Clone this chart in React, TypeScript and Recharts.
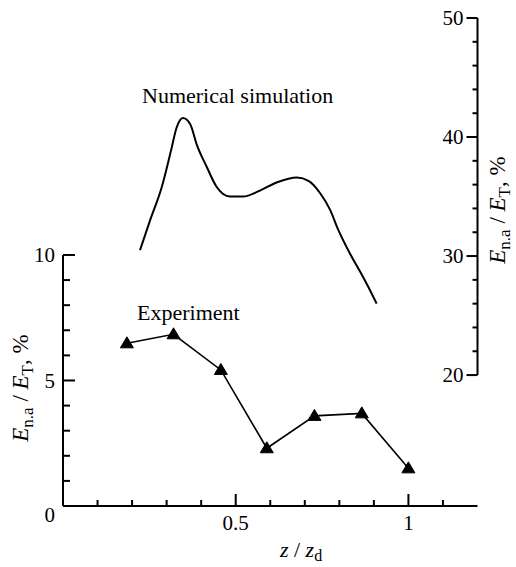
import React from 'react';
import { LineChart, Line, XAxis, YAxis, ReferenceLine } from 'recharts';

// Experiment (left axis, %)
const expZ = [0.185, 0.32, 0.457, 0.59, 0.728, 0.865, 1.0];
const expE = [6.48, 6.84, 5.42, 2.3, 3.59, 3.69, 1.5];

// Numerical simulation (right axis, %)
const simZ = [0.223, 0.252, 0.286, 0.313, 0.329, 0.347, 0.368, 0.388, 0.416, 0.445, 0.483, 0.521, 0.57, 0.62, 0.677, 0.712, 0.744, 0.773, 0.797, 0.831, 0.86, 0.884, 0.908];
const simE = [30.5, 33.0, 35.8, 38.9, 40.8, 41.6, 41.1, 39.3, 37.5, 35.8, 35.0, 35.0, 35.5, 36.2, 36.6, 36.3, 35.3, 33.9, 32.2, 30.2, 28.7, 27.4, 26.0];

// Tick values
const xTicks = [0.1, 0.2, 0.3, 0.4, 0.5, 0.6, 0.7, 0.8, 0.9, 1.0, 1.1];
const xLabelTicks = [0.5, 1];
const leftTicks = [0, 1, 2, 3, 4, 5, 6, 7, 8, 9, 10];
const leftLabelTicks = [0, 5, 10];
const rightTicks = [20, 22, 24, 26, 28, 30, 32, 34, 36, 38, 40, 42, 44, 46, 48, 50];
const rightLabelTicks = [20, 30, 40, 50];

const expData = expZ.map((z, i) => ({ z, e: expE[i] }));
const simData = simZ.map((z, i) => ({ z, e: simE[i] }));

const FONT = "'Liberation Serif', 'DejaVu Serif', serif";
const FS = 21;
const txt = { fontFamily: FONT };

const isIn = (arr: number[], v: number) => arr.some((a) => Math.abs(a - v) < 1e-6);

const XTick = (props: any) => {
  const { x, y, payload } = props;
  const major = isIn(xLabelTicks, payload.value);
  return (
    <g>
      <line x1={x} y1={y} x2={x} y2={y - (major ? 12 : 6)} stroke="#000" strokeWidth={2} />
      {major && (
        <text x={x} y={y + 24} textAnchor="middle" style={txt} fontSize={FS} fill="#000">
          {payload.value}
        </text>
      )}
    </g>
  );
};

const LeftTick = (props: any) => {
  const { x, y, payload } = props;
  const v = payload.value;
  const major = isIn(leftLabelTicks, v);
  return (
    <g>
      {v !== 0 && <line x1={x} y1={y} x2={x + (major ? 12 : 7)} y2={y} stroke="#000" strokeWidth={2} />}
      {major && (
        <text x={x - 8} y={v === 0 ? y + 9 : y} dy="0.35em" textAnchor="end" style={txt} fontSize={FS} fill="#000">
          {v}
        </text>
      )}
    </g>
  );
};

const RightTick = (props: any) => {
  const { x, y, payload } = props;
  const v = payload.value;
  const major = isIn(rightLabelTicks, v);
  return (
    <g>
      <line x1={x} y1={y} x2={x - (major ? 11 : 5)} y2={y} stroke="#000" strokeWidth={2} />
      {major && (
        <text x={x - 14} y={y} dy="0.35em" textAnchor="end" style={txt} fontSize={FS} fill="#000">
          {v}
        </text>
      )}
    </g>
  );
};

const Triangle = (props: any) => {
  const { cx, cy } = props;
  if (cx == null || cy == null) return null;
  return <polygon points={`${cx},${cy - 6.5} ${cx - 6.5},${cy + 4.5} ${cx + 6.5},${cy + 4.5}`} fill="#000" stroke="#000" strokeWidth={1} />;
};

const YTitle = ({ tx, ty }: { tx: number; ty: number }) => (
  <text transform={`translate(${tx},${ty}) rotate(-90)`} textAnchor="middle" style={txt} fontSize={23} fill="#000">
    <tspan fontStyle="italic">E</tspan>
    <tspan fontSize={17} dy={5}>n.a</tspan>
    <tspan dy={-5}> / </tspan>
    <tspan fontStyle="italic">E</tspan>
    <tspan fontSize={17} dy={5}>T</tspan>
    <tspan dy={-5}>, %</tspan>
  </text>
);

export default function App() {
  return (
    <div style={{ position: 'absolute', left: 0, top: 0, background: '#fff' }}>
      <LineChart width={516} height={567} margin={{ top: 18, right: 8.5, left: 23, bottom: 31 }}>
        <XAxis
          type="number"
          dataKey="z"
          domain={[0, 1.2]}
          ticks={xTicks}
          interval={0}
          height={30}
          axisLine={{ stroke: '#000', strokeWidth: 2 }}
          tickLine={false}
          tickSize={0}
          tickMargin={0}
          tick={XTick}
          allowDataOverflow
        />
        <YAxis
          yAxisId="left"
          type="number"
          domain={[0, 19.44]}
          ticks={leftTicks}
          interval={0}
          width={40}
          axisLine={false}
          tickLine={false}
          tickSize={0}
          tickMargin={0}
          tick={LeftTick}
          allowDataOverflow
        />
        <YAxis
          yAxisId="right"
          orientation="right"
          type="number"
          domain={[9, 50]}
          ticks={rightTicks}
          interval={0}
          width={30}
          axisLine={false}
          tickLine={false}
          tickSize={0}
          tickMargin={0}
          tick={RightTick}
          allowDataOverflow
        />
        <ReferenceLine
          yAxisId="left"
          segment={[{ x: 0, y: 0 }, { x: 0, y: 10 }]}
          stroke="#000"
          strokeWidth={2}
          ifOverflow="visible"
        />
        <ReferenceLine
          yAxisId="right"
          segment={[{ x: 1.2, y: 20 }, { x: 1.2, y: 50 }]}
          stroke="#000"
          strokeWidth={2}
          ifOverflow="visible"
        />
        <Line
          data={simData}
          dataKey="e"
          yAxisId="right"
          type="monotone"
          stroke="#000"
          strokeWidth={2}
          dot={false}
          isAnimationActive={false}
        />
        <Line
          data={expData}
          dataKey="e"
          yAxisId="left"
          type="linear"
          stroke="#000"
          strokeWidth={1.6}
          dot={<Triangle />}
          isAnimationActive={false}
        />
        <text x={142} y={103} style={txt} fontSize={22} fill="#000">Numerical simulation</text>
        <text x={137} y={320} style={txt} fontSize={22} fill="#000">Experiment</text>
        <YTitle tx={28} ty={388} />
        <YTitle tx={505} ty={210} />
        <text x={301} y={557} textAnchor="middle" style={txt} fontSize={22} fill="#000">
          <tspan fontStyle="italic">z</tspan>
          <tspan> / </tspan>
          <tspan fontStyle="italic">z</tspan>
          <tspan fontSize={16} dy={4}>d</tspan>
        </text>
      </LineChart>
    </div>
  );
}
